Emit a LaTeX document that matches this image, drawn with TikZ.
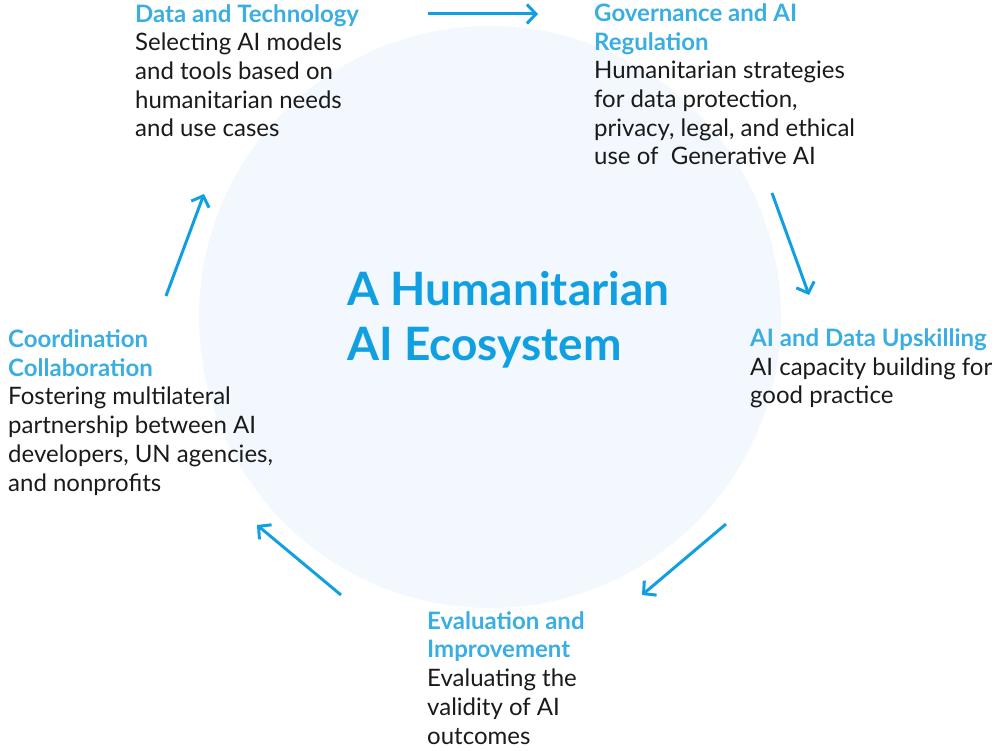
\documentclass[tikz,border=0pt]{standalone}
\usepackage{fontspec}
\setmainfont{Lato}
\usetikzlibrary{arrows.meta}
\definecolor{ecoblue}{HTML}{10A0E2}
\definecolor{headblue}{HTML}{3AAEE3}
\definecolor{ecofill}{HTML}{F2F8FD}
\definecolor{bodytext}{HTML}{1A1A1A}
\newcommand{\headline}[1]{{\bfseries\color{headblue}#1}}

\begin{document}
\begin{tikzpicture}[x=1pt, y=-1pt,
block/.style={anchor=base west, align=left, inner sep=0pt, text=bodytext,
  font=\fontsize{24}{28.7}\selectfont},
cycle/.style={draw=ecoblue, line width=3pt, -{Straight Barb[length=9pt,width=19pt]}},]
	\useasboundingbox (0,0) rectangle (994,751);
	\fill[ecofill] (490,317) circle (291pt);
	% nodes sit on the baseline of their last line
	\node[anchor=base west, align=left, inner sep=0pt, text=ecoblue,
	  font=\fontsize{46}{55}\selectfont\bfseries] (hub) at (347,361)
	  {A Humanitarian\\AI Ecosystem};
	% the five stages, clockwise from the top
	\node[block] (data) at (135,137) {\headline{Data and Technology}\\Selecting AI models\\and tools based on\\humanitarian needs\\and use cases};
	\node[block] (gov) at (594,165) {\headline{Governance and AI}\\\headline{Regulation}\\Humanitarian strategies\\for data protection,\\privacy, legal, and ethical\\use of\ \ Generative AI};
	\node[block] (skill) at (750,404) {\headline{AI and Data Upskilling}\\AI capacity building for\\good practice};
	\node[block] (eval) at (427,744) {\headline{Evaluation and}\\\headline{Improvement}\\Evaluating the\\validity of AI\\outcomes};
	\node[block] (coord) at (8,491) {\headline{Coordination}\\\headline{Collaboration}\\Fostering multilateral\\partnership between AI\\developers, UN agencies,\\and nonprofits};
	% arrow ends
	\coordinate (a1) at (428,14);  \coordinate (b1) at (538,14);
	\coordinate (a2) at (772,193); \coordinate (b2) at (809,295);
	\coordinate (a3) at (726,524); \coordinate (b3) at (642,595);
	\coordinate (a4) at (341,595); \coordinate (b4) at (257,525);
	\coordinate (a5) at (166,296); \coordinate (b5) at (204,194);
	\foreach \i in {1,...,5}
		\draw[cycle] (a\i) -- (b\i);
\end{tikzpicture}
\end{document}
